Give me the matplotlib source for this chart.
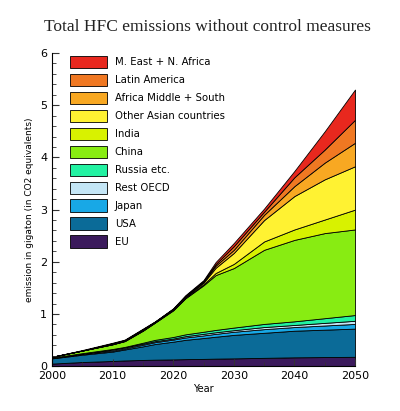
import matplotlib.pyplot as plt
import numpy as np
from matplotlib.ticker import MultipleLocator

years = [2000, 2005, 2010, 2012, 2015, 2017, 2020, 2022, 2025, 2027, 2030, 2035, 2040, 2045, 2050]

# per-region emissions (gigaton CO2 eq)
eu = [.05, .08, .10, .11, .12, .125, .13, .135, .14, .145, .15, .16, .17, .175, .18]
usa = [.10, .14, .18, .21, .26, .30, .34, .37, .40, .42, .45, .48, .51, .525, .54]
japan = [.005, .015, .02, .02, .03, .035, .04, .045, .05, .055, .06, .07, .07, .08, .09]
rest_oecd = [.005, .01, .02, .02, .02, .02, .02, .025, .03, .03, .03, .04, .04, .05, .06]
russia = [.005, .005, .01, .01, .02, .025, .03, .035, .04, .045, .05, .06, .07, .09, .11]
china = [.015, .05, .09, .11, .23, .33, .51, .69, .89, 1.05, 1.14, 1.42, 1.56, 1.63, 1.64]
india = [0, 0, 0, .005, .005, .005, .01, .01, .02, .04, .08, .16, .20, .26, .38]
other_asia = [0, 0, .01, .005, .005, .005, .01, .015, .03, .10, .21, .41, .64, .77, .83]
africa = [0, 0, 0, .005, .01, .005, .01, .01, .02, .04, .06, .10, .19, .32, .45]
latin = [0, 0, .01, .005, .01, .005, 0, .01, .01, .03, .07, .06, .17, .25, .44]
mena = [0, .01, .01, .01, .01, .005, .01, .015, .02, .04, .06, .06, .12, .35, .58]

labels = ["EU", "USA", "Japan", "Rest OECD", "Russia etc.", "China", "India",
          "Other Asian countries", "Africa Middle + South", "Latin America",
          "M. East + N. Africa"]
colors = ["#3b1a5c", "#0b6b98", "#18a8e6", "#c4e6f6", "#22f2a2", "#88ec12",
          "#d8f200", "#fff232", "#f8a822", "#f07822", "#e8281e"]

fig = plt.figure(figsize=(4.0, 4.11), dpi=100)
ax = fig.add_axes([0.13, 0.109, 0.7575, 0.762])

series = [eu, usa, japan, rest_oecd, russia, china, india, other_asia, africa, latin, mena]
ax.stackplot(years, *series, colors=colors, labels=labels,
             edgecolor="black", linewidth=0.6)

ax.set_xlim(2000, 2050)
ax.set_ylim(0, 6)
ax.xaxis.set_major_locator(MultipleLocator(10))
ax.xaxis.set_minor_locator(MultipleLocator(5))
ax.yaxis.set_major_locator(MultipleLocator(1))
ax.yaxis.set_minor_locator(MultipleLocator(0.2))
ax.tick_params(which="both", direction="in", labelsize=8, color="#333333")
ax.tick_params(which="major", length=5)
ax.tick_params(which="minor", length=3)
for s in ("top", "right"):
    ax.spines[s].set_visible(False)
ax.set_xlabel("Year", fontsize=7, labelpad=2)
ax.set_ylabel("emission in gigaton (in CO2 equivalents)", fontsize=6.5)

h, l = ax.get_legend_handles_labels()
ax.legend(h[::-1], l[::-1], loc="upper left", bbox_to_anchor=(0.03, 1.02),
          frameon=False, fontsize=7.3, handlelength=3.6, handleheight=1.5,
          labelspacing=0.55, handletextpad=0.8)

fig.text(0.11, 0.925, "Total HFC emissions without control measures",
         fontsize=12.5, family="Liberation Serif", color="#222222")

fig.savefig("out.png", dpi=100)
